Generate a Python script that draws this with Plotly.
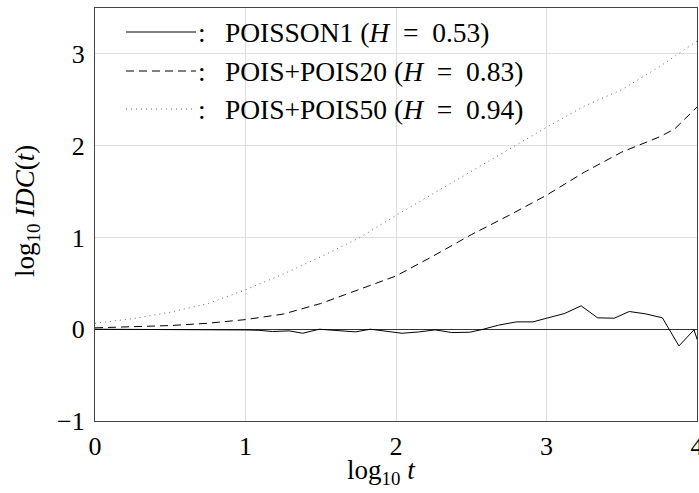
import plotly.graph_objects as go

# ---- data ----
x_solid = [0, 0.2, 0.4, 0.6, 0.8, 1.0, 1.09, 1.18, 1.29, 1.38, 1.49, 1.61, 1.73, 1.83,
           1.94, 2.04, 2.15, 2.26, 2.37, 2.49, 2.58, 2.68, 2.80, 2.91, 3.01, 3.12, 3.23,
           3.34, 3.45, 3.55, 3.66, 3.77, 3.88, 3.98, 4.05]
y_solid = [0, 0, -0.002, -0.004, -0.006, -0.008, -0.012, -0.025, -0.018, -0.044, 0.0,
           -0.012, -0.029, 0.0, -0.025, -0.044, -0.03, -0.007, -0.036, -0.033, 0.0, 0.044,
           0.08, 0.08, 0.124, 0.171, 0.255, 0.124, 0.12, 0.193, 0.167, 0.124, -0.182,
           -0.007, -0.35]

x_dash = [0, 0.25, 0.5, 0.75, 1.0, 1.25, 1.5, 1.75, 2.0, 2.25, 2.5, 2.75, 3.0, 3.25,
          3.5, 3.75, 3.85, 4.0]
y_dash = [0.015, 0.025, 0.04, 0.065, 0.105, 0.165, 0.28, 0.43, 0.58, 0.80, 1.03, 1.24,
          1.46, 1.71, 1.93, 2.095, 2.18, 2.42]

x_dot = [0, 0.25, 0.5, 0.75, 1.0, 1.25, 1.5, 1.75, 2.0, 2.25, 2.5, 2.75, 3.0, 3.25,
         3.5, 3.75, 4.0]
y_dot = [0.065, 0.115, 0.185, 0.28, 0.43, 0.60, 0.79, 0.99, 1.24, 1.48, 1.72, 1.96,
         2.20, 2.43, 2.61, 2.86, 3.14]

EQ = "\u2002=\u2002"
series_names = ["POISSON1 (<i>H</i>" + EQ + "0.53)",
                "POIS+POIS20 (<i>H</i>" + EQ + "0.83)",
                "POIS+POIS50 (<i>H</i>" + EQ + "0.94)"]
x_ticks = [0, 1, 2, 3, 4]
y_ticks = [-1, 0, 1, 2, 3]

FONT = "Liberation Serif, Times New Roman, serif"
L, R, T, B = 95, 2, 8, 72
W, H = 699, 493
PW, PH = W - L - R, H - T - B

def px(xp):
    return (xp - L) / PW

def py(yp):
    return (H - B - yp) / PH

styles = [dict(color="black", width=1, dash="solid"),
          dict(color="black", width=1, dash="8px,5px"),
          dict(color="#666666", width=1, dash="1px,4px")]

fig = go.Figure()
for xs, ys, st, nm in zip([x_solid, x_dash, x_dot], [y_solid, y_dash, y_dot], styles, series_names):
    fig.add_trace(go.Scatter(x=xs, y=ys, mode="lines", line=st, name=nm,
                             showlegend=False, hoverinfo="skip"))

shapes = []
# white patches behind the legend (hide gridlines there)
for (x0, x1, y0, y1) in [(108, 622, 8, 28), (108, 622, 45, 63), (500, 622, 8, 63)]:
    shapes.append(dict(type="rect", xref="paper", yref="paper", x0=px(x0), x1=px(x1),
                       y0=py(y1), y1=py(y0), fillcolor="white", line=dict(width=0),
                       layer="between"))
annotations = []
rows = [32, 71, 109]
for st, nm, ry in zip(styles, series_names, rows):
    shapes.append(dict(type="line", xref="paper", yref="paper", x0=px(126), x1=px(196),
                       y0=py(ry), y1=py(ry), line=st, layer="above"))
    annotations.append(dict(xref="paper", yref="paper", x=px(196), y=py(ry),
                            xanchor="left", yanchor="middle", showarrow=False,
                            text=":\u2002\u2009" + nm,
                            font=dict(family=FONT, size=27.5, color="black")))

# axis titles
annotations.append(dict(xref="paper", yref="paper", x=px(381), y=py(472),
                        xanchor="center", yanchor="middle", showarrow=False,
                        text="log<sub>10</sub> <i>t</i>",
                        font=dict(family=FONT, size=27, color="black")))
annotations.append(dict(xref="paper", yref="paper", x=px(27), y=py(211),
                        xanchor="center", yanchor="middle", showarrow=False, textangle=-90,
                        text="log<sub>10</sub> <i>IDC</i>(<i>t</i>)",
                        font=dict(family=FONT, size=27, color="black")))

fig.update_layout(
    width=W, height=H,
    margin=dict(l=L, r=R, t=T, b=B, autoexpand=False),
    paper_bgcolor="white", plot_bgcolor="white",
    font=dict(family=FONT, size=26, color="black"),
    shapes=shapes, annotations=annotations,
    showlegend=False,
)
fig.update_xaxes(range=[0, 4], tickvals=x_ticks, ticktext=[str(v) for v in x_ticks],
                 showgrid=True, gridcolor="#dddddd", gridwidth=1, automargin=False,
                 showline=True, linecolor="#444444", linewidth=1.3, mirror=True,
                 zeroline=False, ticks="", ticklabelstandoff=2,
                 ticklabeloverflow="allow",
                 tickfont=dict(family=FONT, size=26, color="black"))
fig.update_yaxes(range=[-1, 3.5], tickvals=y_ticks, automargin=False,
                 showgrid=True, gridcolor="#dddddd", gridwidth=1,
                 showline=True, linecolor="#444444", linewidth=1.3, mirror=True,
                 zeroline=True, zerolinecolor="#333333", zerolinewidth=1.2, ticks="",
                 ticklabelstandoff=4, ticklabeloverflow="allow",
                 tickfont=dict(family=FONT, size=26, color="black"))

fig.write_html("out.html", config={"displayModeBar": False},
               post_script="document.body.style.margin='0';"
                           "document.body.style.overflow='hidden';")
